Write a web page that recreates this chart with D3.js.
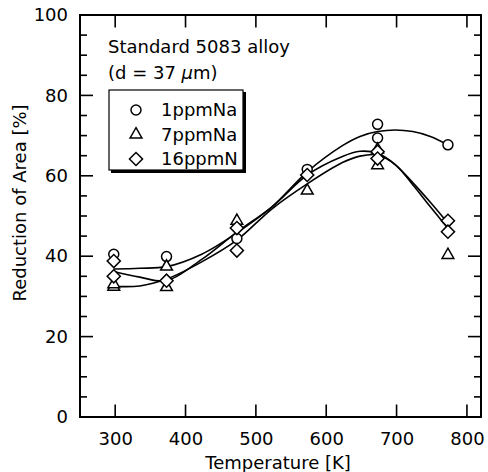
<!DOCTYPE html>
<meta charset="utf-8">
<style>
body { margin: 0; background: #fff; }
svg text { font-family: "DejaVu Sans", sans-serif; fill: #000; }
.axis path { display: none; }
</style>
<svg width="488" height="472"></svg>
<script src="https://cdn.jsdelivr.net/npm/d3@7"></script>
<script>

// measured points
var temps1 = [298, 373, 473, 573, 673, 673, 773];
var ra1    = [40.5, 39.9, 44.4, 61.6, 72.8, 69.4, 67.7];

var temps7 = [298, 298, 373, 373, 473, 573, 673, 673, 773];
var ra7    = [32.4, 33.0, 37.4, 32.3, 48.8, 56.3, 66.5, 62.6, 40.3];

var temps16 = [298, 298, 373, 473, 473, 573, 673, 673, 773, 773];
var ra16    = [38.8, 35.0, 33.9, 47.0, 41.4, 60.2, 66.0, 64.3, 48.8, 46.1];

// fitted curves
var curveTemps = [298, 335, 373, 423, 473, 523, 573, 623, 648, 673, 698, 723, 748, 773];
var fit1  = [36.8, 37.0, 37.4, 40.5, 45.8, 52.3, 61.0, 67.5, 69.8, 71.0, 71.4, 71.0, 69.8, 67.7];
var fit16 = [36.2, 34.8, 33.9, 39.2, 46.0, 52.3, 60.2, 64.8, 66.1, 65.6, 62.8, 58.3, 53.4, 48.2];
var fit7  = [32.5, 32.6, 34.3, 38.6, 44.0, 51.8, 58.0, 63.3, 64.9, 65.2, 62.8, 57.8, 52.3, 46.9];

var xTicks = [300, 400, 500, 600, 700, 800];
var yTicks = [0, 20, 40, 60, 80, 100];
var yMinor = d3.range(0, 101, 5);

var legendNames = ["1ppmNa", "7ppmNa", "16ppmN"];

var svg = d3.select("svg");

var x = d3.scaleLinear().domain([250, 820]).range([80, 481]);
var y = d3.scaleLinear().domain([0, 100]).range([417, 15]);
// plain "top" would clash with window.top
var xL = x(250), xR = x(820), yB = y(0), yT = y(100);

var symCircle = d3.symbol().type(d3.symbolCircle).size(78);
var symTri = d3.symbol().type(d3.symbolTriangle).size(60);
var symDiamond = d3.symbol().type(d3.symbolSquare).size(86);

function drawMark(g, kind, px, py) {
  var p = g.append("path")
      .attr("fill", "#fff").attr("stroke", "#000").attr("stroke-width", 1.5);
  if (kind == 0) {
    p.attr("d", symCircle()).attr("transform", "translate(" + px + "," + py + ")");
  } else if (kind == 1) {
    p.attr("d", symTri()).attr("transform", "translate(" + px + "," + py + ")");
  } else {
    p.attr("d", symDiamond()).attr("transform", "translate(" + px + "," + py + ") rotate(45)");
  }
}

// tick labels
svg.append("g").attr("class", "axis")
    .attr("transform", "translate(0," + yB + ")")
    .call(d3.axisBottom(x).tickValues(xTicks).tickSize(0).tickPadding(15))
    .selectAll("text").style("font-size", "18px");

svg.append("g").attr("class", "axis")
    .attr("transform", "translate(" + xL + ",0)")
    .call(d3.axisLeft(y).tickValues(yTicks).tickSize(0).tickPadding(12))
    .selectAll("text").style("font-size", "18px");

// frame and inward ticks, all as filled rects
var fr = svg.append("g").attr("fill", "#000");
fr.append("rect").attr("x", xL - 1).attr("y", yT - 1).attr("width", xR - xL + 2).attr("height", 2);
fr.append("rect").attr("x", xL - 1).attr("y", yB - 1).attr("width", xR - xL + 2).attr("height", 2);
fr.append("rect").attr("x", xL - 1).attr("y", yT - 1).attr("width", 2).attr("height", yB - yT + 2);
fr.append("rect").attr("x", xR - 1).attr("y", yT - 1).attr("width", 2).attr("height", yB - yT + 2);

xTicks.forEach(function(d) {
  fr.append("rect").attr("x", x(d) - 0.8).attr("y", yB - 12.5).attr("width", 1.6).attr("height", 12.5);
  fr.append("rect").attr("x", x(d) - 0.8).attr("y", yT).attr("width", 1.6).attr("height", 12.5);
});
yMinor.forEach(function(d) {
  var len = d % 20 == 0 ? 13 : 7;
  fr.append("rect").attr("x", xL).attr("y", y(d) - 0.8).attr("width", len).attr("height", 1.6);
  fr.append("rect").attr("x", xR - len).attr("y", y(d) - 0.8).attr("width", len).attr("height", 1.6);
});

// axis titles
svg.append("text")
    .attr("x", 278).attr("y", 469)
    .attr("text-anchor", "middle")
    .style("font-size", "18px")
    .text("Temperature [K]");

svg.append("text")
    .attr("transform", "translate(26,203) rotate(-90)")
    .attr("text-anchor", "middle")
    .style("font-size", "18px")
    .text("Reduction of Area [%]");

// fitted lines
var line = d3.line()
    .x(function(d) { return x(d[0]); })
    .y(function(d) { return y(d[1]); })
    .curve(d3.curveCatmullRom);

[fit1, fit7, fit16].forEach(function(f) {
  svg.append("path")
      .attr("fill", "none").attr("stroke", "#000").attr("stroke-width", 1.6)
      .attr("d", line(curveTemps.map(function(t, i) { return [t, f[i]]; })));
});

// points
var pts = svg.append("g");
temps1.forEach(function(t, i) { drawMark(pts, 0, x(t), y(ra1[i])); });
temps7.forEach(function(t, i) { drawMark(pts, 1, x(t), y(ra7[i])); });
temps16.forEach(function(t, i) { drawMark(pts, 2, x(t), y(ra16[i])); });

// annotation
svg.append("text").attr("x", 108).attr("y", 53)
    .style("font-size", "18px").text("Standard 5083 alloy");
var t2 = svg.append("text").attr("x", 108).attr("y", 79).style("font-size", "18px");
t2.append("tspan").text("(d = 37 ");
t2.append("tspan").style("font-style", "italic").text("\u03bc");
t2.append("tspan").text("m)");

// legend with drop shadow
var lg = svg.append("g");
lg.append("rect").attr("x", 111).attr("y", 92).attr("width", 135).attr("height", 81).attr("fill", "#000");
lg.append("rect").attr("x", 109).attr("y", 90).attr("width", 134).attr("height", 80)
    .attr("fill", "#fff").attr("stroke", "#000").attr("stroke-width", 1.2);

legendNames.forEach(function(name, i) {
  var ly = 110 + i * 24.5;
  drawMark(lg, i, 136, ly);
  lg.append("text").attr("x", 161).attr("y", ly).attr("dy", "0.36em")
      .style("font-size", "18px").text(name);
});

</script>
